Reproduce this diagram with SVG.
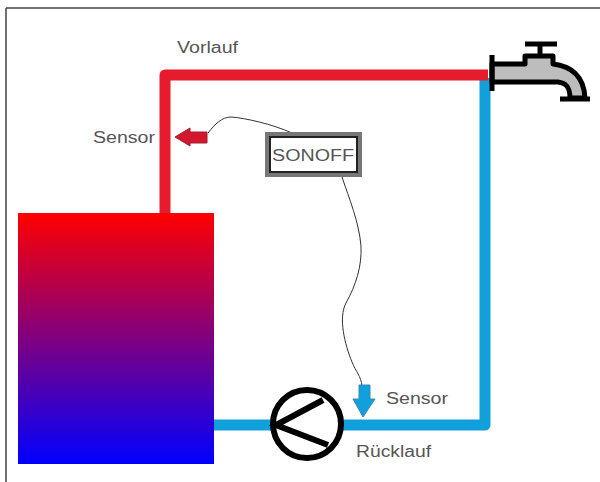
<svg xmlns="http://www.w3.org/2000/svg" width="600" height="482" viewBox="0 0 600 482">
<style>
.t{font-family:"Liberation Sans",Arial,sans-serif;font-size:16px;fill:#555}
.w{fill:none;stroke:#333;stroke-width:1}
.p{fill:none;stroke-width:11}
</style>
<defs><linearGradient id="g" x1="0" y1="0" x2="0" y2="1"><stop offset="0" stop-color="#f00"/><stop offset="1" stop-color="#00f"/></linearGradient></defs>
<rect width="600" height="482" fill="#fff"/>
<path d="M6 8H600M6 8V482" fill="none" stroke="#444" stroke-width="1.500"/>
<g id="connectors">
<path class="p" stroke="#12a0dc" stroke-linejoin="round" d="M214 425H485V78"/>
<path class="p" stroke="#e61c2e" stroke-linejoin="round" d="M165 214V75H488"/>
<path class="w" d="M208 133C215 124 222 117 231 117C245 118 272 124 292 133"/>
<path class="w" d="M342 177C349 198 359 222 361 246C362 266 356 285 346 303C338 318 345 345 352 362C356 372 361 376 362 386"/>
</g>
<g id="boiler"><rect x="18" y="213" width="196" height="251" fill="url(#g)"/></g>
<g id="vorlauf-label"><text class="t" x="177" y="53" textLength="61" lengthAdjust="spacingAndGlyphs">Vorlauf</text></g>
<g id="sensor-top">
<path d="M175 137L190 128V132H207V143H190V146Z" fill="#d3172c" stroke="#a02030" stroke-width="1"/>
<text class="t" x="93" y="143" textLength="62" lengthAdjust="spacingAndGlyphs">Sensor</text>
</g>
<g id="sonoff">
<rect x="267" y="134" width="93" height="41" fill="#fff" stroke="#777" stroke-width="4"/>
<rect x="270" y="137" width="87" height="35" fill="none" stroke="#222" stroke-width="2"/>
<text class="t" x="272" y="161" textLength="82" lengthAdjust="spacingAndGlyphs">SONOFF</text>
</g>
<g id="sensor-bottom">
<path d="M363 417L353 399H359V385H370V399H375Z" fill="#12a0dc" stroke="#3a86b0" stroke-width="1"/>
<text class="t" x="386" y="404" textLength="62" lengthAdjust="spacingAndGlyphs">Sensor</text>
</g>
<g id="pump">
<circle cx="307" cy="424" r="34" fill="#fff" stroke="#000" stroke-width="6"/>
<path d="M323 400L276 425L328 445" fill="none" stroke="#000" stroke-width="6"/>
</g>
<g id="ruecklauf-label"><text class="t" x="356" y="457" textLength="75" lengthAdjust="spacingAndGlyphs">Rücklauf</text></g>
<g id="tap">
<path d="M492 64H525V56H553V64C571 66 584 76 585 98H570C570 88 567 83 558 82H492Z" fill="#bdbdbd" stroke="#000" stroke-width="5" stroke-linejoin="round"/>
<path d="M492 55V91M525 44H557M540 44V56M560 99H590" fill="none" stroke="#000" stroke-width="5"/>
</g>
</svg>
